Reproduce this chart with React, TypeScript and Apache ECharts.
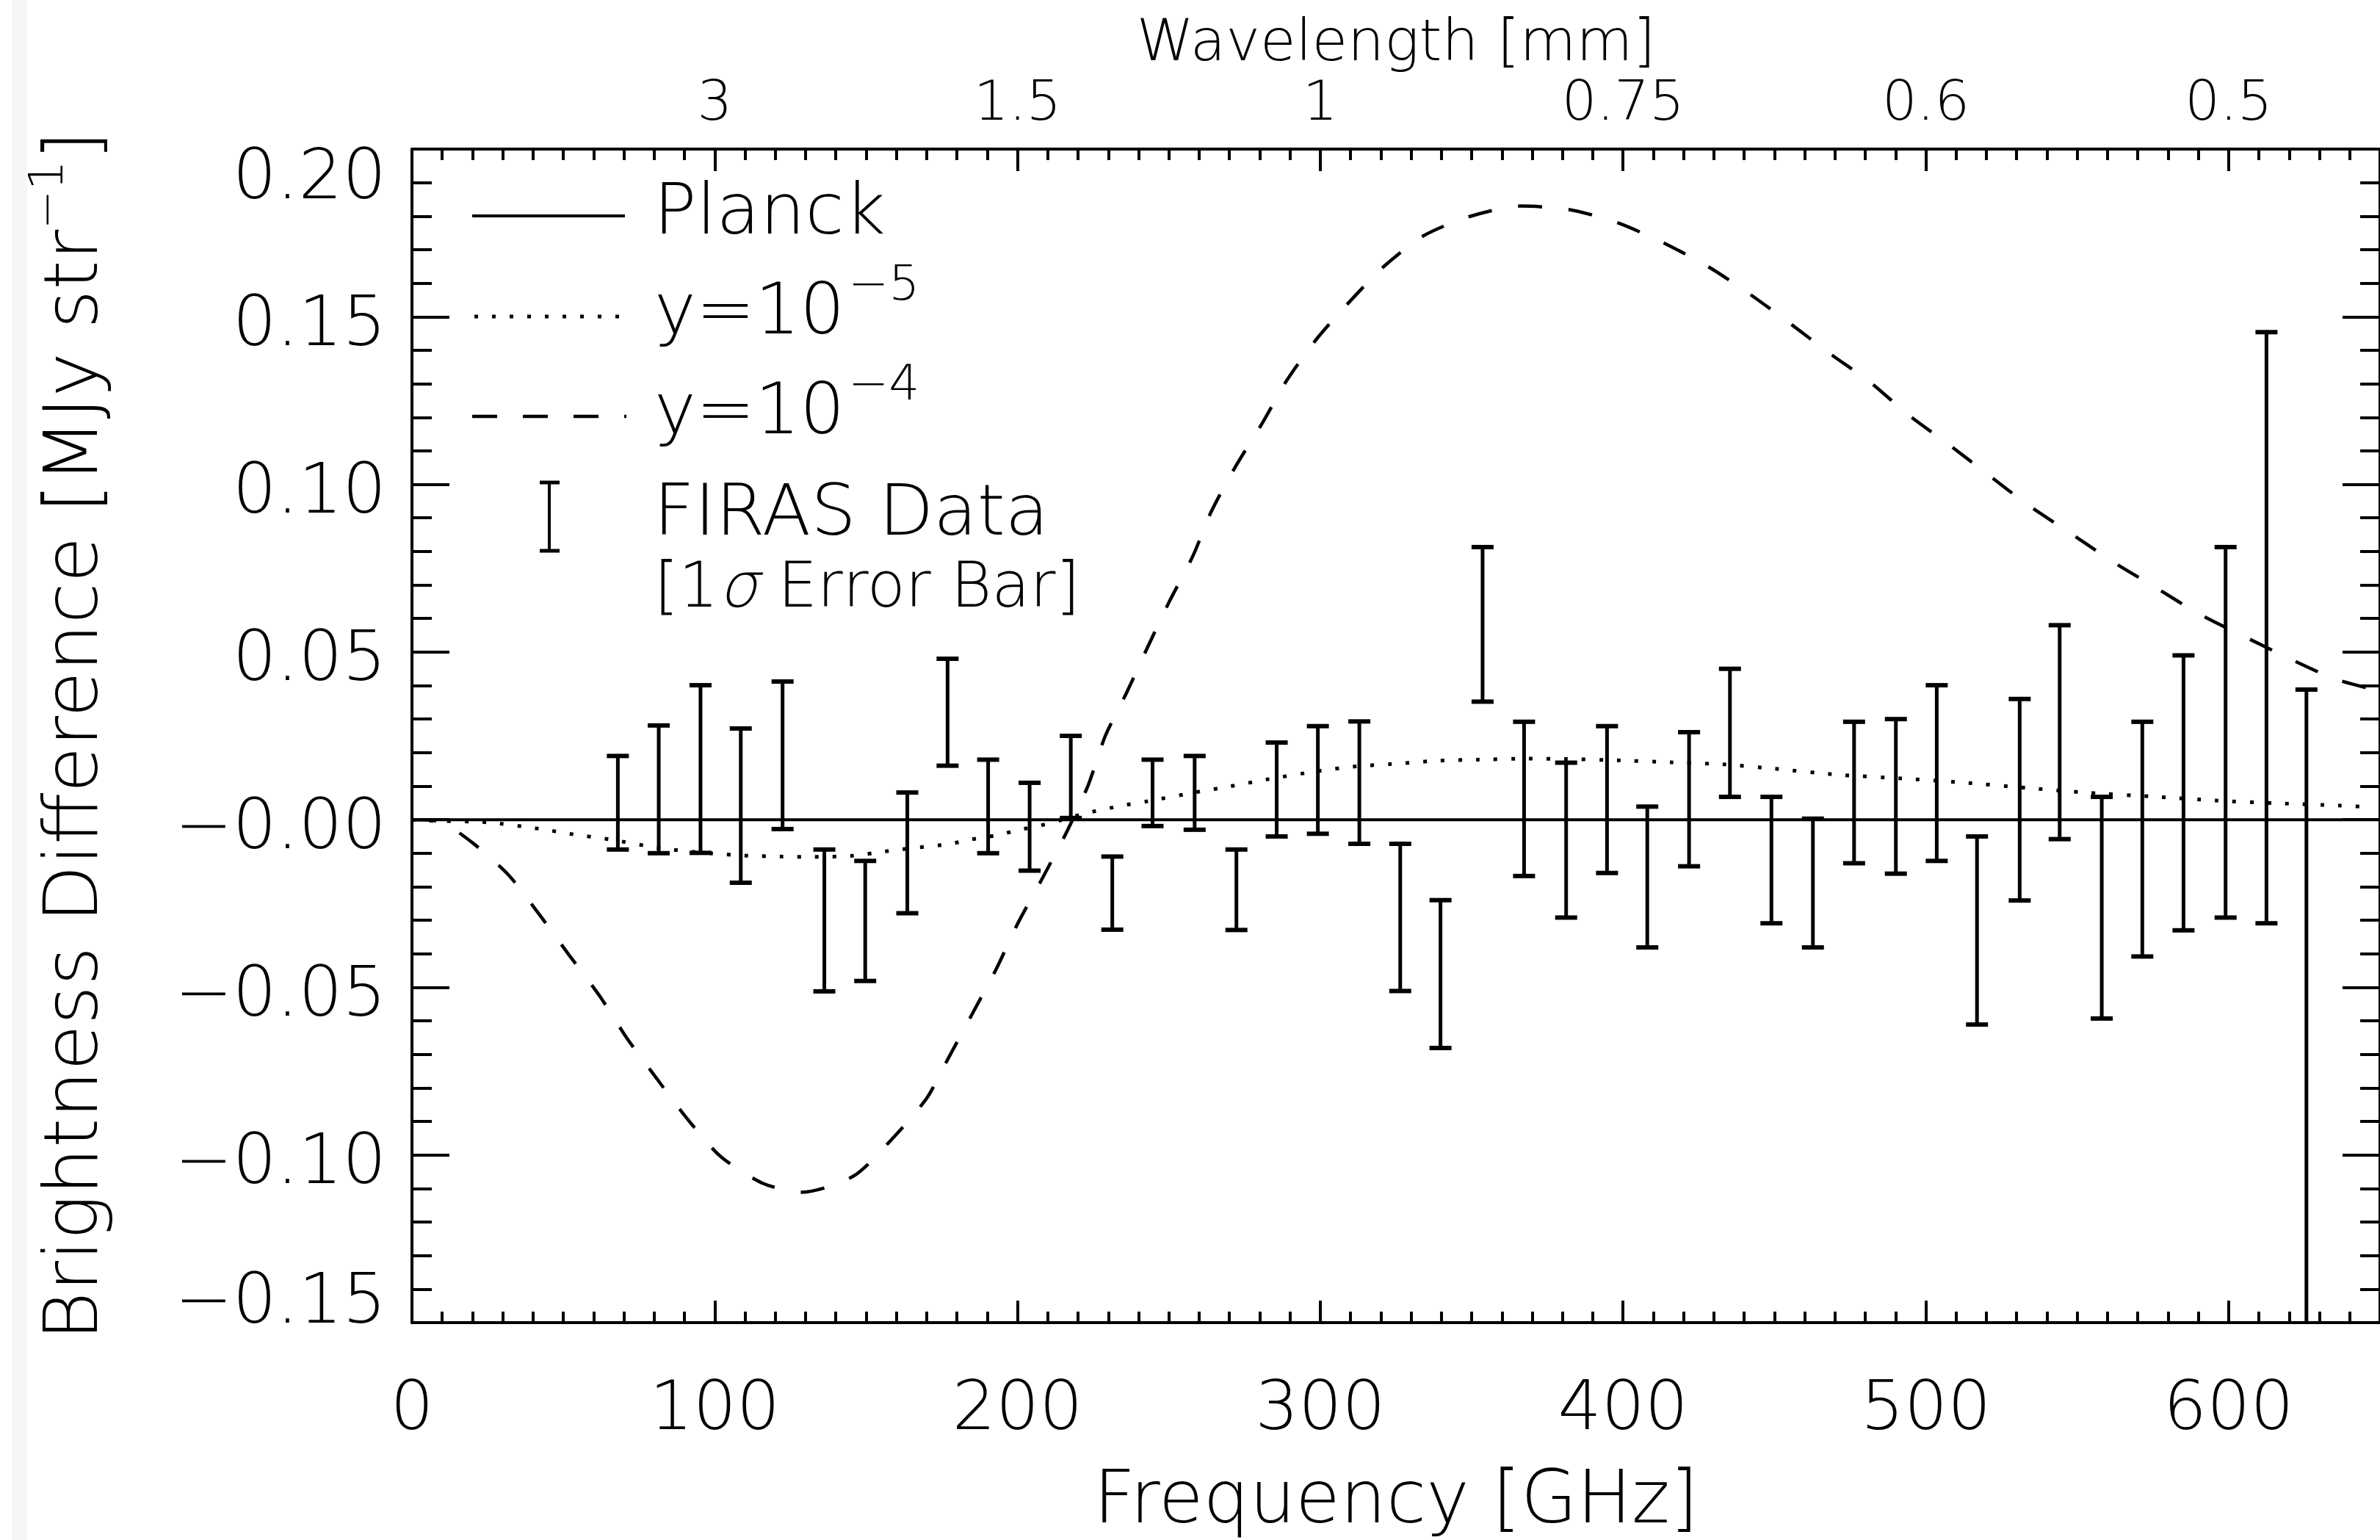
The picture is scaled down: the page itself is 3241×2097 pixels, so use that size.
import React, { useEffect, useRef } from 'react';
import * as echarts from 'echarts';

const FONT = "'DejaVu Sans'";
const WEIGHT = 200;

// Axis ranges and tick labels
const X_MIN = 0;
const X_MAX = 650;
const Y_MIN = -0.15;
const Y_MAX = 0.2;
const FREQ_TICK_LABELS = ['0', '100', '200', '300', '400', '500', '600'];
const WAVELENGTH_TICK_LABELS = ['', '3', '1.5', '1', '0.75', '0.6', '0.5'];
const Y_TICK_LABELS = ['−0.15', '−0.10', '−0.05', '−0.00', '0.05', '0.10', '0.15', '0.20'];

// Planck (reference, zero difference)
const PLANCK_FREQ = [0, 650];
const PLANCK_VALUE = [0, 0];

// y = 1e-5 distortion (dotted)
const Y5_FREQ = [0, 5, 25, 42, 52, 66, 82, 98, 110, 122, 133, 145, 156, 166, 178, 184, 194, 201, 206, 215, 222, 234, 243, 259, 270, 283, 300, 312, 327, 339, 352, 369, 381, 398, 416, 433, 450, 471, 492, 512, 533, 554, 575, 596, 616, 637, 647];
const Y5_VALUE = [0, -0.0003, -0.0008, -0.0027, -0.0042, -0.006, -0.0085, -0.01, -0.0107, -0.011, -0.0111, -0.0108, -0.0095, -0.0084, -0.0072, -0.006, -0.0045, -0.0029, -0.0021, 0.0, 0.0018, 0.0041, 0.0055, 0.0082, 0.0099, 0.0121, 0.0146, 0.0159, 0.0168, 0.0176, 0.0179, 0.0182, 0.0181, 0.0177, 0.0171, 0.0165, 0.0152, 0.0134, 0.0123, 0.0111, 0.0095, 0.008, 0.0069, 0.0057, 0.0049, 0.0042, 0.0037];

// y = 1e-4 distortion (dashed)
const Y4_FREQ = [0, 9, 20, 32, 42, 52, 62, 71, 81, 91, 102, 116, 129, 146, 159, 170, 177, 185, 193, 200, 208.5, 216.5, 223.3, 229, 236, 243, 250, 258, 264, 272, 281, 289, 299, 310, 321, 334, 349, 366, 382, 398, 413, 428, 441, 455, 468, 482, 494, 508, 521, 534, 548, 562, 576, 590, 605, 620, 635, 647];
const Y4_VALUE = [0, -0.0005, -0.0069, -0.0166, -0.0282, -0.0405, -0.0526, -0.0652, -0.0774, -0.0893, -0.1005, -0.1085, -0.1111, -0.1062, -0.0948, -0.0831, -0.0714, -0.058, -0.0445, -0.0311, -0.017, -0.0032, 0.0102, 0.025, 0.0378, 0.0515, 0.0648, 0.0788, 0.0919, 0.1053, 0.1185, 0.1311, 0.1436, 0.1548, 0.165, 0.1741, 0.1798, 0.183, 0.182, 0.1781, 0.1722, 0.165, 0.1573, 0.1481, 0.1392, 0.1302, 0.1209, 0.1116, 0.1026, 0.0937, 0.0853, 0.0768, 0.0692, 0.0615, 0.0547, 0.0481, 0.042, 0.039];

// FIRAS data: 1 sigma error bars (top / bottom)
const FIRAS_FREQ = [68.0, 81.5, 95.3, 108.6, 122.4, 136.2, 149.7, 163.6, 176.9, 190.3, 204.0, 217.6, 231.3, 244.6, 258.5, 272.3, 285.6, 299.2, 312.9, 326.4, 339.7, 353.6, 367.3, 381.2, 394.7, 408.0, 421.8, 435.3, 449.0, 462.7, 476.3, 490.1, 503.6, 516.9, 531.0, 544.2, 558.1, 571.5, 585.1, 599.0, 612.5, 625.7];
const FIRAS_HIGH = [0.019, 0.0281, 0.0401, 0.0272, 0.0412, -0.0089, -0.0123, 0.0081, 0.048, 0.0179, 0.011, 0.025, -0.011, 0.0179, 0.019, -0.0089, 0.023, 0.0279, 0.0293, -0.0072, -0.024, 0.0813, 0.0292, 0.017, 0.0279, 0.0039, 0.0261, 0.045, 0.0068, 0.0003, 0.0292, 0.03, 0.0401, -0.005, 0.036, 0.058, 0.0068, 0.0292, 0.049, 0.0813, 0.1454, 0.0388];
const FIRAS_LOW = [-0.0089, -0.01, -0.0099, -0.0188, -0.0028, -0.0512, -0.0481, -0.0279, 0.0161, -0.01, -0.0152, 0.0005, -0.0328, -0.0019, -0.003, -0.0329, -0.005, -0.0042, -0.0072, -0.0511, -0.0681, 0.0352, -0.0168, -0.0292, -0.0159, -0.0381, -0.0139, 0.0068, -0.0309, -0.0381, -0.013, -0.0161, -0.0123, -0.0611, -0.0241, -0.0058, -0.0593, -0.0408, -0.033, -0.0292, -0.0309, -0.3];

const zip = (xs: number[], ys: number[]) => xs.map((x, i) => [x, ys[i]]);

const freqLabel = (v: number) => {
  const i = Math.round(v / 100);
  if (Math.abs(v - i * 100) > 1e-6) return '';
  return FREQ_TICK_LABELS[i] ?? '';
};
const waveLabel = (v: number) => {
  const i = Math.round(v / 100);
  if (Math.abs(v - i * 100) > 1e-6) return '';
  return WAVELENGTH_TICK_LABELS[i] ?? '';
};
const yLabel = (v: number) => {
  const i = Math.round((v - Y_MIN) / 0.05);
  const s = Y_TICK_LABELS[i] ?? '';
  if (i === Y_TICK_LABELS.length - 1) return `{t|${s}}`;
  if (i === 0) return `{b|${s}}`;
  return `{m|${s}}`;
};

const black = '#000';

function buildOption(): any {
  const tickStyle = { color: black, width: 4 };
  const f = (size: number) => ({ fontFamily: FONT, fontWeight: WEIGHT, fontSize: size, color: black });
  const lblBase = f(94);
  const gText = (size: number, extra: any = {}) => ({ fontFamily: FONT, fontWeight: WEIGHT, fontSize: size, fill: black, align: 'left', verticalAlign: 'middle', ...extra });
  return {
    animation: false,
    backgroundColor: '#fff',
    grid: { left: 561, top: 203, right: -13, bottom: 296, containLabel: false },
    xAxis: [
      {
        type: 'value', position: 'bottom', min: X_MIN, max: X_MAX, interval: 100,
        axisLine: { show: true, onZero: false, lineStyle: { color: black, width: 4 } },
        axisTick: { show: true, inside: true, length: 30, lineStyle: tickStyle },
        axisLabel: { show: true, margin: 66, ...f(93), formatter: freqLabel, showMaxLabel: false },
        splitLine: { show: false },
        name: 'Frequency [GHz]', nameLocation: 'middle', nameGap: 188,
        nameTextStyle: f(99),
      },
      {
        type: 'value', position: 'bottom', min: X_MIN, max: X_MAX, interval: 10,
        axisLine: { show: false, onZero: false },
        axisTick: { show: true, inside: true, length: 15, lineStyle: tickStyle },
        axisLabel: { show: false },
        splitLine: { show: false },
      },
      {
        type: 'value', position: 'top', min: X_MIN, max: X_MAX, interval: 100,
        axisLine: { show: true, onZero: false, lineStyle: { color: black, width: 4 } },
        axisTick: { show: true, inside: true, length: 30, lineStyle: tickStyle },
        axisLabel: { show: true, margin: 29, ...f(75), formatter: waveLabel, showMaxLabel: false },
        splitLine: { show: false },
        name: 'Wavelength [mm]', nameLocation: 'middle', nameGap: 105,
        nameTextStyle: f(79),
      },
      {
        type: 'value', position: 'top', min: X_MIN, max: X_MAX, interval: 10,
        axisLine: { show: false, onZero: false },
        axisTick: { show: true, inside: true, length: 15, lineStyle: tickStyle },
        axisLabel: { show: false },
        splitLine: { show: false },
      },
    ],
    yAxis: [
      {
        type: 'value', position: 'left', min: Y_MIN, max: Y_MAX, interval: 0.05,
        axisLine: { show: true, onZero: false, lineStyle: { color: black, width: 4 } },
        axisTick: { show: true, inside: true, length: 51, lineStyle: tickStyle },
        minorTick: { show: true, splitNumber: 5, length: 27, lineStyle: tickStyle },
        axisLabel: {
          show: true, margin: 35, ...lblBase, formatter: yLabel,
          rich: {
            t: { ...lblBase, padding: [69, 0, 0, 0] },
            b: { ...lblBase, padding: [0, 0, 66, 0] },
            m: { ...lblBase, padding: [12, 0, 0, 0] },
          },
        },
        splitLine: { show: false },
        minorSplitLine: { show: false },
        name: '{a|Brightness Difference [MJy str}{s|−1}{a|]}',
        nameLocation: 'middle', nameRotate: 90, nameGap: 400,
        nameTextStyle: {
          ...f(102),
          rich: {
            a: { ...f(102), lineHeight: 130 },
            s: { ...f(64), lineHeight: 64, verticalAlign: 'top' },
          },
        },
      },
      {
        type: 'value', position: 'right', min: Y_MIN, max: Y_MAX, interval: 0.05,
        axisLine: { show: true, onZero: false, lineStyle: { color: black, width: 4 } },
        axisTick: { show: true, inside: true, length: 51, lineStyle: tickStyle },
        minorTick: { show: true, splitNumber: 5, length: 27, lineStyle: tickStyle },
        axisLabel: { show: false },
        splitLine: { show: false },
        minorSplitLine: { show: false },
      },
    ],
    series: [
      {
        name: 'Planck', type: 'line', xAxisIndex: 0, yAxisIndex: 0,
        data: zip(PLANCK_FREQ, PLANCK_VALUE), showSymbol: false, symbol: 'none',
        lineStyle: { color: black, width: 4, type: 'solid' }, z: 3,
      },
      {
        name: 'y=10^-5', type: 'line', xAxisIndex: 0, yAxisIndex: 0,
        data: zip(Y5_FREQ, Y5_VALUE), showSymbol: false, symbol: 'none',
        smooth: 0.25,
        lineStyle: { color: black, width: 5, type: [5, 19], cap: 'butt' }, z: 3,
      },
      {
        name: 'y=10^-4', type: 'line', xAxisIndex: 0, yAxisIndex: 0,
        data: zip(Y4_FREQ, Y4_VALUE), showSymbol: false, symbol: 'none',
        smooth: 0.25,
        lineStyle: { color: black, width: 4.5, type: [33, 36], cap: 'butt' }, z: 3,
      },
      {
        name: 'FIRAS Data', type: 'custom', xAxisIndex: 0, yAxisIndex: 0, clip: true,
        data: FIRAS_FREQ.map((fq, i) => [fq, FIRAS_LOW[i], FIRAS_HIGH[i]]),
        encode: { x: 0, y: [1, 2] },
        renderItem: (params: any, api: any) => {
          const x = api.value(0);
          const lo = api.value(1);
          const hi = api.value(2);
          const pHi = api.coord([x, hi]);
          const pLo = api.coord([x, lo]);
          const hw = 15;
          return {
            type: 'group',
            children: [
              { type: 'line', shape: { x1: pHi[0], y1: pHi[1], x2: pLo[0], y2: pLo[1] }, style: { stroke: black, lineWidth: 5 } },
              { type: 'line', shape: { x1: pHi[0] - hw, y1: pHi[1], x2: pHi[0] + hw, y2: pHi[1] }, style: { stroke: black, lineWidth: 6 } },
              { type: 'line', shape: { x1: pLo[0] - hw, y1: pLo[1], x2: pLo[0] + hw, y2: pLo[1] }, style: { stroke: black, lineWidth: 6 } },
            ],
          };
        },
        z: 4,
      },
    ],
    graphic: {
      elements: [
        { type: 'rect', shape: { x: 16, y: 0, width: 21, height: 2097 }, style: { fill: '#f6f6f6' }, z: -10, silent: true },
        // Legend: Planck
        { type: 'line', shape: { x1: 643, y1: 294, x2: 851, y2: 294 }, style: { stroke: black, lineWidth: 4 } },
        { type: 'text', x: 890, y: 284, style: { text: 'Planck', ...gText(97) } },
        // Legend: y = 1e-5
        { type: 'line', shape: { x1: 646, y1: 431, x2: 846, y2: 431 }, style: { stroke: black, lineWidth: 5, lineDash: [5, 19] } },
        { type: 'text', x: 891, y: 421, style: { text: 'y=10', ...gText(96) } },
        { type: 'text', x: 1155, y: 385, style: { text: '−5', ...gText(66) } },
        // Legend: y = 1e-4
        { type: 'line', shape: { x1: 643, y1: 567, x2: 853, y2: 567 }, style: { stroke: black, lineWidth: 4.5, lineDash: [34, 35] } },
        { type: 'text', x: 891, y: 557, style: { text: 'y=10', ...gText(96) } },
        { type: 'text', x: 1155, y: 521, style: { text: '−4', ...gText(66) } },
        // Legend: FIRAS
        { type: 'line', shape: { x1: 748, y1: 657, x2: 748, y2: 750 }, style: { stroke: black, lineWidth: 4 } },
        { type: 'line', shape: { x1: 735, y1: 657, x2: 762, y2: 657 }, style: { stroke: black, lineWidth: 5 } },
        { type: 'line', shape: { x1: 735, y1: 750, x2: 762, y2: 750 }, style: { stroke: black, lineWidth: 5 } },
        { type: 'text', x: 890, y: 694, style: { text: 'FIRAS Data', ...gText(97) } },
        {
          type: 'text', x: 891, y: 796,
          style: {
            text: '{a|[1}{i|σ}{a| Error Bar]}', ...gText(85),
            rich: {
              a: { fontFamily: FONT, fontWeight: WEIGHT, fontSize: 85, fill: black },
              i: { fontFamily: "'DejaVu Sans Light', 'DejaVu Sans'", fontWeight: WEIGHT, fontSize: 85, fill: black, fontStyle: 'italic' },
            },
          },
        },
      ],
    },
  };
}

export default function App() {
  const ref = useRef<HTMLDivElement>(null);
  useEffect(() => {
    if (!ref.current) return;
    const chart = echarts.init(ref.current, undefined, { renderer: 'svg' });
    chart.setOption(buildOption());
    return () => chart.dispose();
  }, []);
  return (
    <div
      ref={ref}
      style={{ position: 'fixed', left: 0, top: 0, width: 3241, height: 2097, background: '#fff', overflow: 'hidden' }}
    />
  );
}
